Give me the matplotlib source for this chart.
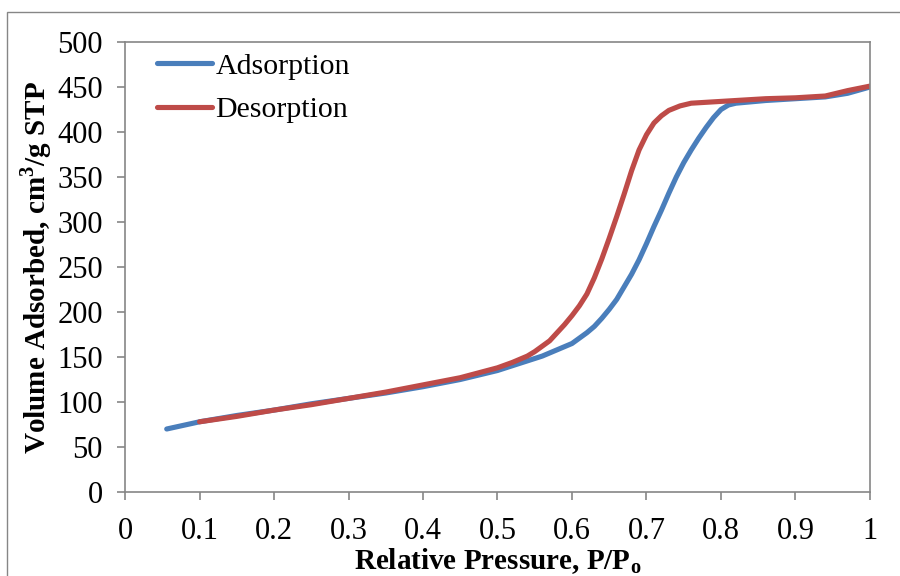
import matplotlib.pyplot as plt
import matplotlib.patches as mpatches

plt.rcParams['font.family'] = ['Liberation Serif', 'DejaVu Serif']
plt.rcParams['mathtext.fontset'] = 'custom'
plt.rcParams['mathtext.rm'] = 'Liberation Serif'
plt.rcParams['mathtext.bf'] = 'Liberation Serif:bold'

# adsorption branch, P/Po vs volume (cm3/g STP)
ads_p = [0.056, 0.10, 0.15, 0.20, 0.25, 0.30, 0.35, 0.40, 0.45, 0.50,
         0.53, 0.56, 0.58, 0.60, 0.61, 0.62, 0.63, 0.64, 0.65, 0.66,
         0.67, 0.68, 0.69, 0.70, 0.71, 0.72, 0.73, 0.74, 0.75, 0.76,
         0.77, 0.78, 0.79, 0.80, 0.81, 0.82, 0.86, 0.90, 0.94, 0.97, 1.00]
ads_v = [70, 78, 85, 91, 98, 104, 110, 117, 125, 135,
         143, 151, 158, 165, 171, 177, 184, 193, 203, 214,
         228, 242, 258, 276, 295, 313, 332, 350, 366, 380,
         393, 405, 416, 425, 430, 432, 435, 437, 439, 443, 450]

# desorption branch
des_p = [1.00, 0.97, 0.94, 0.90, 0.86, 0.82, 0.78, 0.76, 0.745, 0.73,
         0.72, 0.71, 0.70, 0.69, 0.68, 0.67, 0.66, 0.65, 0.64, 0.63,
         0.62, 0.61, 0.60, 0.59, 0.58, 0.57, 0.56, 0.55, 0.54, 0.52,
         0.50, 0.45, 0.40, 0.35, 0.30, 0.25, 0.20, 0.15, 0.10]
des_v = [451, 446, 440, 438, 437, 435, 433, 432, 429, 424,
         418, 410, 397, 380, 357, 331, 306, 282, 259, 238,
         220, 207, 196, 186, 177, 168, 162, 156, 151, 144,
         138, 127, 119, 111, 104, 97, 91, 84, 78]

x_ticks = [0, 0.1, 0.2, 0.3, 0.4, 0.5, 0.6, 0.7, 0.8, 0.9, 1]
x_labels = ['0', '0.1', '0.2', '0.3', '0.4', '0.5', '0.6', '0.7', '0.8', '0.9', '1']
y_ticks = list(range(0, 501, 50))

grey = '#868686'

fig = plt.figure(figsize=(9, 5.76), dpi=100)
ax = fig.add_axes([125 / 900, 1 - 492 / 576, 745 / 900, 450 / 576])

# outer chart frame
fig.patches.append(mpatches.Rectangle((7 / 900, -0.05), 1.0, 1 - 12 / 576 + 0.05,
                                      transform=fig.transFigure, fill=False,
                                      edgecolor=grey, linewidth=1.0))

ax.plot(ads_p, ads_v, color='#4A7EBB', linewidth=3.7, solid_capstyle='round',
        solid_joinstyle='round', label='Adsorption')
ax.plot(des_p, des_v, color='#BE4B48', linewidth=3.7, solid_capstyle='round',
        solid_joinstyle='round', label='Desorption')

ax.set_xlim(0, 1)
ax.set_ylim(0, 500)
ax.set_xticks(x_ticks)
ax.set_xticklabels(x_labels)
ax.set_yticks(y_ticks)

for s in ax.spines.values():
    s.set_color(grey)
    s.set_linewidth(1.2)

ax.tick_params(axis='both', direction='out', length=6, width=1.2, color=grey,
               labelsize=22)
ax.tick_params(axis='x', pad=12)
ax.tick_params(axis='y', pad=10)

ax.set_xlabel(r'Relative Pressure, P/P$_\mathbf{o}$', fontsize=21,
              fontweight='bold', labelpad=0)
ax.set_ylabel(r'Volume Adsorbed, cm$^\mathbf{3}$/g STP', fontsize=21,
              fontweight='bold', labelpad=2)

ax.legend(loc='upper left', bbox_to_anchor=(0.043, 0.976), frameon=False,
          fontsize=21.5, handlelength=1.85, handletextpad=0.1,
          labelspacing=0.55, borderaxespad=0, borderpad=0)

fig.savefig('out.png', dpi=100)
